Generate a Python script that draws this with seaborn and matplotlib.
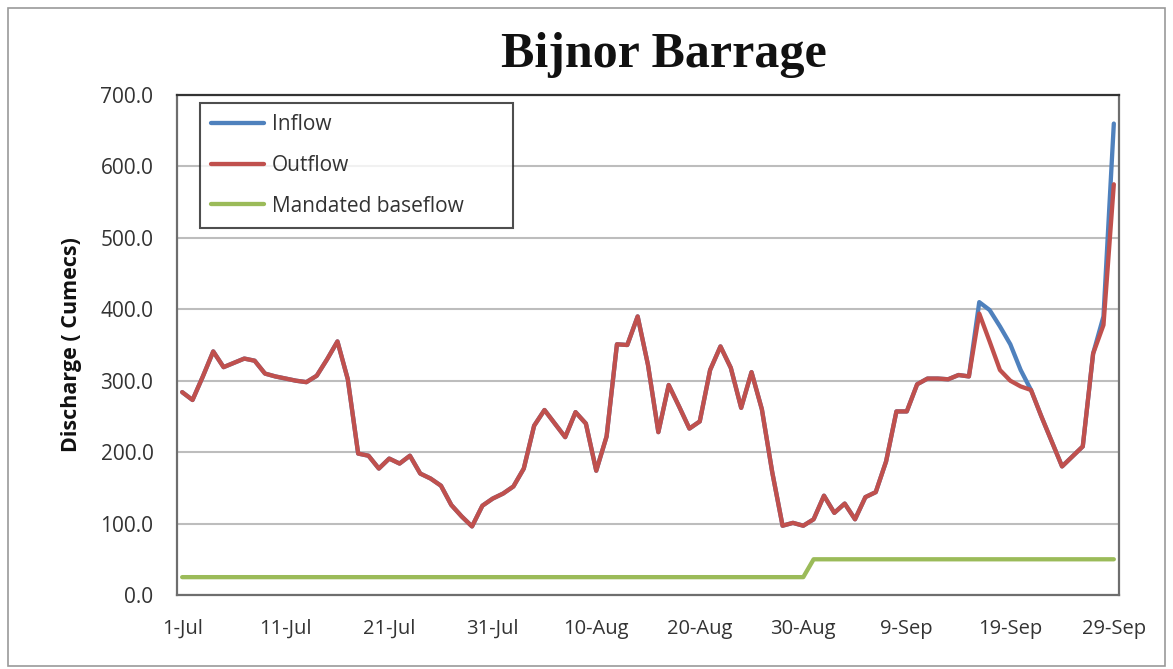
import numpy as np
import pandas as pd
import matplotlib
matplotlib.use("Agg")
import matplotlib.pyplot as plt
from matplotlib.patches import Rectangle
from matplotlib.lines import Line2D
import seaborn as sns

# ---- data (daily, 1-Jul .. 29-Sep) ----
days = list(range(91))
outflow = [284, 273, 306, 341, 319, 325, 331, 328, 310, 306,
           303, 300, 298, 307, 330, 355, 302, 198, 195, 177,
           191, 184, 195, 170, 163, 153, 126, 110, 96, 125,
           135, 142, 152, 177, 237, 259, 240, 221, 256, 240,
           174, 222, 351, 350, 390, 322, 228, 294, 264, 233,
           243, 315, 348, 318, 262, 312, 260, 172, 97, 101,
           97, 106, 139, 115, 128, 106, 137, 144, 187, 257,
           257, 295, 303, 303, 302, 308, 306, 394, 355, 315,
           300, 292, 287, 250, 215, 180, 194, 208, 338, 378,
           575]
inflow = [284, 273, 306, 341, 319, 325, 331, 328, 310, 306,
          303, 300, 298, 307, 330, 355, 302, 198, 195, 177,
          191, 184, 195, 170, 163, 153, 126, 110, 96, 125,
          135, 142, 152, 177, 237, 259, 240, 221, 256, 240,
          174, 222, 351, 350, 390, 322, 228, 294, 264, 233,
          243, 315, 348, 318, 262, 312, 260, 172, 97, 101,
          97, 106, 139, 115, 128, 106, 137, 144, 187, 257,
          257, 295, 303, 303, 302, 308, 306, 410, 399, 376,
          351, 315, 287, 250, 215, 180, 194, 208, 338, 390,
          660]
baseflow = [25] * 61 + [50] * 30
tick_positions = [0, 10, 20, 30, 40, 50, 60, 70, 80, 90]
tick_labels = ["1-Jul", "11-Jul", "21-Jul", "31-Jul", "10-Aug",
               "20-Aug", "30-Aug", "9-Sep", "19-Sep", "29-Sep"]
series_names = ["Inflow", "Outflow", "Mandated baseflow"]
colors = ["#4F81BD", "#C0504D", "#9BBB59"]

df = pd.DataFrame({
    "day": days * 3,
    "value": inflow + outflow + baseflow,
    "series": [series_names[0]] * 91 + [series_names[1]] * 91 + [series_names[2]] * 91,
})

sns.set_style("white")
plt.rcParams["font.family"] = ["Open Sans", "DejaVu Sans"]

fig = plt.figure(figsize=(11.73, 6.69), dpi=100)
ax = fig.add_axes([177 / 1173, 1 - 595 / 669, (1119 - 177) / 1173, (595 - 95) / 669])

sns.lineplot(data=df, x="day", y="value", hue="series", hue_order=series_names,
             palette=dict(zip(series_names, colors)), linewidth=3.1, ax=ax,
             legend=False)

ax.set_xlim(-0.5, 90.5)
ax.set_ylim(0, 700)
ax.set_yticks(np.arange(0, 701, 100))
ax.set_yticklabels([f"{v:.1f}" for v in np.arange(0, 701, 100)], fontsize=15)
ax.set_xticks(tick_positions)
ax.set_xticklabels(tick_labels, fontsize=14.5)
ax.tick_params(axis="y", length=0, pad=17, colors="#333333")
ax.tick_params(axis="x", length=0, pad=17, colors="#333333")
ax.set_xlabel("")
ax.set_ylabel("")
ax.yaxis.grid(True, color="#BDBDBD", linewidth=1.5)
ax.set_axisbelow(True)
for s in ax.spines.values():
    s.set_visible(True)
    s.set_color("#6E6E6E")
    s.set_linewidth(1.6)
ax.spines["top"].set_color("#333333")

fig.text(71 / 1173, 1 - 345 / 669, "Discharge ( Cumecs)", rotation=90,
         ha="center", va="center", fontsize=15.5, fontweight="bold", color="#111111")

handles = [Line2D([0], [0], color=c, lw=3.1) for c in colors]
leg = ax.legend(handles, series_names, loc="upper left", mode="expand",
                bbox_to_anchor=(23 / 942, 0.74, 313 / 942, 0.244), borderaxespad=0,
                fontsize=15, frameon=True, fancybox=False,
                handlelength=2.5, handletextpad=0.4, labelspacing=0.94,
                borderpad=0.55)
leg.get_frame().set_edgecolor("#222222")
leg.get_frame().set_linewidth(1.5)
for t in leg.get_texts():
    t.set_color("#333333")

fig.text(664 / 1173, 1 - 67 / 669, "Bijnor Barrage", ha="center", va="baseline",
         fontsize=36, fontweight="bold", family=["Liberation Serif", "DejaVu Serif"],
         color="#111111")

fig.patches.append(Rectangle((8 / 1173, 3 / 669), 1 - 16 / 1173, 1 - 11 / 669,
                             transform=fig.transFigure, fill=False,
                             edgecolor="#9A9A9A", linewidth=1.2))

fig.savefig("out.png", dpi=100)
